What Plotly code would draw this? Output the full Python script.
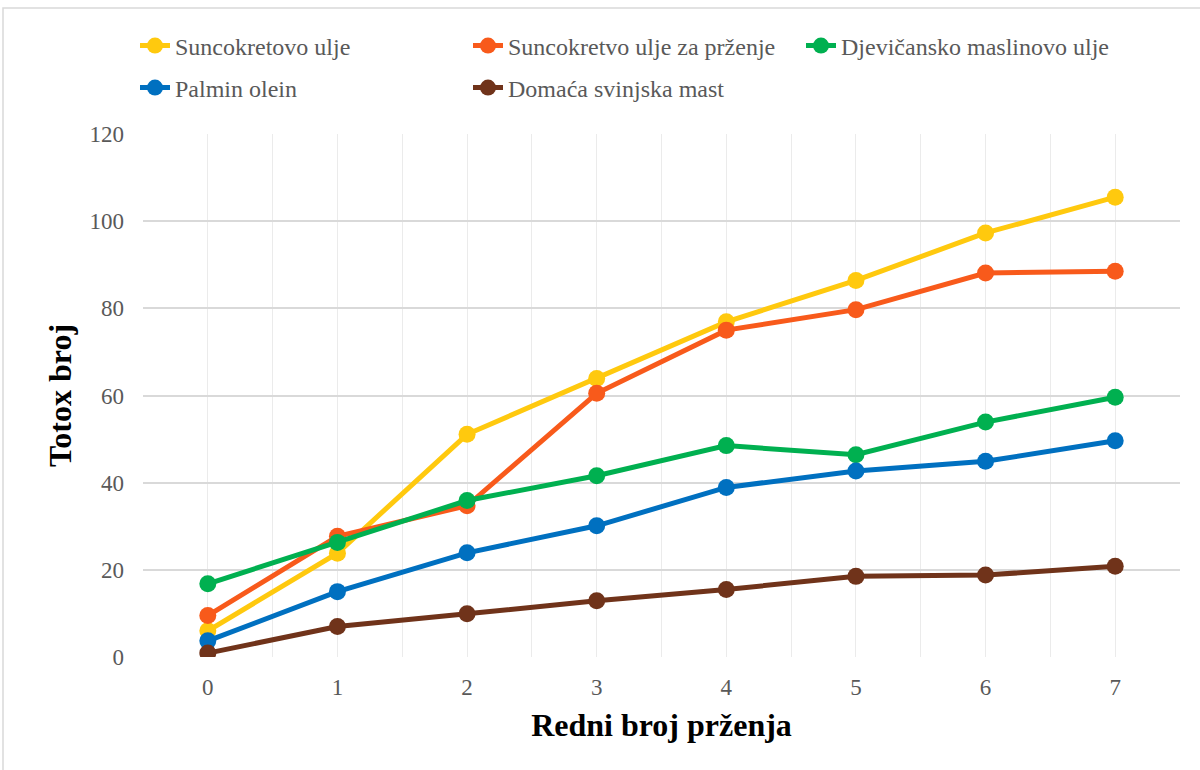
import plotly.graph_objects as go

x_vals = [0, 1, 2, 3, 4, 5, 6, 7]
series_names = ["Suncokretovo ulje", "Suncokretvo ulje za prženje", "Djevičansko maslinovo ulje",
                "Palmin olein", "Domaća svinjska mast"]
suncokretovo = [6.0, 23.8, 51.1, 63.9, 76.9, 86.4, 97.3, 105.5]
suncokretovo_przenje = [9.5, 27.7, 34.7, 60.5, 75.0, 79.7, 88.1, 88.5]
maslinovo = [16.8, 26.3, 35.9, 41.6, 48.5, 46.4, 53.9, 59.6]
palmin = [3.7, 15.0, 23.9, 30.1, 38.9, 42.7, 44.9, 49.6]
svinjska = [0.9, 7.0, 9.9, 12.9, 15.5, 18.5, 18.8, 20.8]
colors = ["#FFC90E", "#F85A1B", "#00B050", "#0070C0", "#70331A"]
legend_ids = ["legend", "legend", "legend", "legend2", "legend2"]
y_ticks = [0, 20, 40, 60, 80, 100, 120]

FONT = "Liberation Serif"

fig = go.Figure()
for name, vals, col, lg in zip(series_names, [suncokretovo, suncokretovo_przenje, maslinovo, palmin, svinjska],
                               colors, legend_ids):
    fig.add_trace(go.Scatter(
        x=x_vals, y=vals, name=name, mode="lines+markers",
        line=dict(color=col, width=5),
        marker=dict(color=col, size=17),
        legend=lg,
    ))

L, R, T, B = 143, 20, 134, 113
PW, PH = 1200 - L - R, 770 - T - B

def px_x(px):
    return (px - L) / PW

def px_y(py):
    return 1 + (T - py) / PH

leg_common = dict(
    orientation="h", xanchor="left", yanchor="middle",
    entrywidth=288, entrywidthmode="pixels",
    font=dict(family=FONT, size=24, color="#595959"),
    bgcolor="rgba(0,0,0,0)",
)

fig.update_layout(
    width=1200, height=770,
    margin=dict(l=L, r=R, t=T, b=B),
    paper_bgcolor="white", plot_bgcolor="white",
    font=dict(family=FONT, size=23, color="#595959"),
    showlegend=True,
    legend=dict(x=px_x(135), y=px_y(46), **leg_common),
    legend2=dict(x=px_x(135), y=px_y(88), **leg_common),
    xaxis=dict(
        range=[-0.5, 7.5], tickvals=x_vals, ticktext=[str(v) for v in x_vals],
        showgrid=True, gridcolor="#EBEBEB", gridwidth=1,
        minor=dict(dtick=1, tick0=0.5, showgrid=True, gridcolor="#EBEBEB", gridwidth=1),
        zeroline=False, showline=False, ticks="",
        ticklabelstandoff=14,
        tickfont=dict(family=FONT, size=23, color="#595959"),
        title=dict(text="<b>Redni broj prženja</b>", font=dict(family=FONT, size=32, color="black"), standoff=14),
    ),
    yaxis=dict(
        range=[0, 120], tickvals=y_ticks,
        showgrid=True, gridcolor="#D9D9D9", gridwidth=1.5,
        zeroline=False, showline=False, ticks="",
        ticklabelstandoff=18,
        tickfont=dict(family=FONT, size=23, color="#595959"),
        title=dict(text="<b>Totox broj</b>", font=dict(family=FONT, size=32, color="black"), standoff=8),
    ),
    shapes=[dict(type="rect", xref="paper", yref="paper",
                 x0=px_x(3), x1=px_x(1210),
                 y0=px_y(780), y1=px_y(8),
                 line=dict(color="#D9D9D9", width=1.5), fillcolor="rgba(0,0,0,0)", layer="below")],
)

fig.write_html("out.html", config={"displayModeBar": False},
               post_script="document.body.style.margin='0';")
